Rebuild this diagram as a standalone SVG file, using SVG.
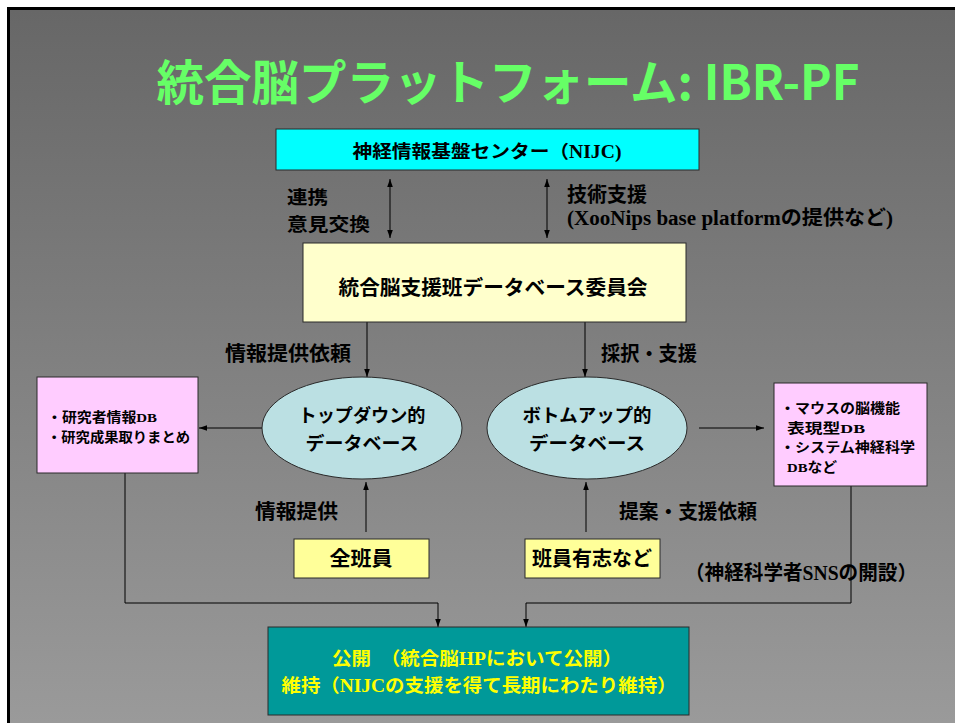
<svg xmlns="http://www.w3.org/2000/svg" width="955" height="723" viewBox="0 0 955 723">
<style>
.t{font-family:"Noto Sans CJK JP","Noto Sans",sans-serif;font-weight:bold;fill:#000}
.s{font-family:"Liberation Serif",serif;font-weight:bold}
.ln{fill:none;stroke:#000;stroke-width:1}
.bx{stroke:#2a2a2a;stroke-width:1}
</style>
<defs>
<linearGradient id="bg" x1="0" y1="0" x2="0" y2="1">
<stop offset="0" stop-color="#676767"/>
<stop offset="1" stop-color="#9a9a9a"/>
</linearGradient>
<marker id="ah" viewBox="0 0 10 10" refX="10" refY="5" markerWidth="8" markerHeight="8" markerUnits="userSpaceOnUse" orient="auto-start-reverse">
<path d="M0,1.5 L10,5 L0,8.5 z" fill="#000"/>
</marker>
</defs>
<rect x="0" y="0" width="955" height="723" fill="#fff"/>
<rect x="7" y="7" width="948" height="716" fill="#000"/>
<rect x="10" y="10" width="945" height="713" fill="url(#bg)"/>

<text x="508" y="100" text-anchor="middle" font-size="48" textLength="703" lengthAdjust="spacingAndGlyphs" style="font-family:'Noto Sans CJK JP','Noto Sans',sans-serif;font-weight:bold;fill:#66ff66">統合脳プラットフォーム: IBR-PF</text>

<g id="connectors">
<line class="ln" x1="390" y1="179" x2="390" y2="238" marker-start="url(#ah)" marker-end="url(#ah)"/>
<line class="ln" x1="547" y1="179" x2="547" y2="238" marker-start="url(#ah)" marker-end="url(#ah)"/>
<line class="ln" x1="367" y1="322" x2="367" y2="377" marker-end="url(#ah)"/>
<line class="ln" x1="585" y1="322" x2="585" y2="377" marker-end="url(#ah)"/>
<line class="ln" x1="262" y1="428" x2="199" y2="428" marker-end="url(#ah)"/>
<line class="ln" x1="699" y1="428" x2="764" y2="428" marker-end="url(#ah)"/>
<line class="ln" x1="366" y1="532" x2="366" y2="482" marker-end="url(#ah)"/>
<line class="ln" x1="586" y1="532" x2="586" y2="482" marker-end="url(#ah)"/>
<path class="ln" d="M125,473 V603 H438 V627" marker-end="url(#ah)"/>
<path class="ln" d="M851,486 V603 H526 V627" marker-end="url(#ah)"/>
</g>

<g id="labels">
<text class="t" x="287" y="204" font-size="18.5" textLength="41" lengthAdjust="spacingAndGlyphs">連携</text>
<text class="t" x="287" y="231" font-size="18.5" textLength="83" lengthAdjust="spacingAndGlyphs">意見交換</text>
<text class="t" x="567" y="202" font-size="20">技術支援</text>
<text class="t" x="567" y="225" font-size="20" textLength="326" lengthAdjust="spacingAndGlyphs"><tspan class="s">(XooNips base platform</tspan>の提供など<tspan class="s">)</tspan></text>
<text class="t" x="225" y="361" font-size="20" textLength="126" lengthAdjust="spacingAndGlyphs">情報提供依頼</text>
<text class="t" x="601" y="361" font-size="20" textLength="96" lengthAdjust="spacingAndGlyphs">採択・支援</text>
<text class="t" x="255" y="519" font-size="20" textLength="83" lengthAdjust="spacingAndGlyphs">情報提供</text>
<text class="t" x="619" y="519" font-size="20" textLength="138" lengthAdjust="spacingAndGlyphs">提案・支援依頼</text>
<text class="t" x="685" y="580" font-size="20" textLength="232" lengthAdjust="spacingAndGlyphs">（神経科学者<tspan class="s">SNS</tspan>の開設）</text>
</g>

<g id="nijc">
<rect class="bx" x="276" y="129" width="423" height="41" fill="#00ffff"/>
<text class="t" x="487" y="158" font-size="18" text-anchor="middle" textLength="269" lengthAdjust="spacingAndGlyphs">神経情報基盤センター（<tspan class="s">NIJC)</tspan></text>
</g>

<g id="committee">
<rect class="bx" x="303" y="243" width="383" height="79" fill="#ffffcc"/>
<text class="t" x="493" y="295" font-size="20" text-anchor="middle" textLength="309" lengthAdjust="spacingAndGlyphs">統合脳支援班データベース委員会</text>
</g>

<g id="topdown">
<ellipse class="bx" cx="362" cy="428" rx="100" ry="51" fill="#bbe0e3"/>
<text class="t" x="362" y="422" font-size="18.5" text-anchor="middle" textLength="127" lengthAdjust="spacingAndGlyphs">トップダウン的</text>
<text class="t" x="362" y="450" font-size="18.5" text-anchor="middle" textLength="113" lengthAdjust="spacingAndGlyphs">データベース</text>
</g>

<g id="bottomup">
<ellipse class="bx" cx="587" cy="428" rx="100" ry="51" fill="#bbe0e3"/>
<text class="t" x="587" y="422" font-size="18.5" text-anchor="middle" textLength="129" lengthAdjust="spacingAndGlyphs">ボトムアップ的</text>
<text class="t" x="587" y="450" font-size="18.5" text-anchor="middle" textLength="116" lengthAdjust="spacingAndGlyphs">データベース</text>
</g>

<g id="leftdb">
<rect class="bx" x="37" y="377" width="161" height="96" fill="#ffccff"/>
<text class="t" x="47" y="422" font-size="13.5" textLength="110" lengthAdjust="spacingAndGlyphs">・研究者情報<tspan class="s">DB</tspan></text>
<text class="t" x="47" y="442" font-size="13.5" textLength="143" lengthAdjust="spacingAndGlyphs">・研究成果取りまとめ</text>
</g>

<g id="rightdb">
<rect class="bx" x="774" y="383" width="153" height="103" fill="#ffccff"/>
<text class="t" x="780" y="413" font-size="13.5" textLength="120" lengthAdjust="spacingAndGlyphs">・マウスの脳機能</text>
<text class="t" x="787" y="433" font-size="13.5" textLength="78" lengthAdjust="spacingAndGlyphs">表現型<tspan class="s">DB</tspan></text>
<text class="t" x="780" y="452" font-size="13.5" textLength="135" lengthAdjust="spacingAndGlyphs">・システム神経科学</text>
<text class="t" x="787" y="472" font-size="13.5" textLength="50" lengthAdjust="spacingAndGlyphs"><tspan class="s">DB</tspan>など</text>
</g>

<g id="allmembers">
<rect class="bx" x="294" y="539" width="135" height="39" fill="#ffff99"/>
<text class="t" x="361" y="566" font-size="20" text-anchor="middle" textLength="63" lengthAdjust="spacingAndGlyphs">全班員</text>
</g>

<g id="volunteers">
<rect class="bx" x="525" y="539" width="135" height="39" fill="#ffff99"/>
<text class="t" x="592" y="566" font-size="20" text-anchor="middle" textLength="120" lengthAdjust="spacingAndGlyphs">班員有志など</text>
</g>

<g id="publish">
<rect class="bx" x="268" y="627" width="421" height="88" fill="#009999"/>
<text class="t" x="477" y="665" font-size="18.5" text-anchor="middle" textLength="290" lengthAdjust="spacingAndGlyphs" style="fill:#ffff00">公開　（統合脳<tspan class="s">HP</tspan>において公開）</text>
<text class="t" x="479" y="692" font-size="18.5" text-anchor="middle" textLength="395" lengthAdjust="spacingAndGlyphs" style="fill:#ffff00">維持（<tspan class="s">NIJC</tspan>の支援を得て長期にわたり維持）</text>
</g>
</svg>
